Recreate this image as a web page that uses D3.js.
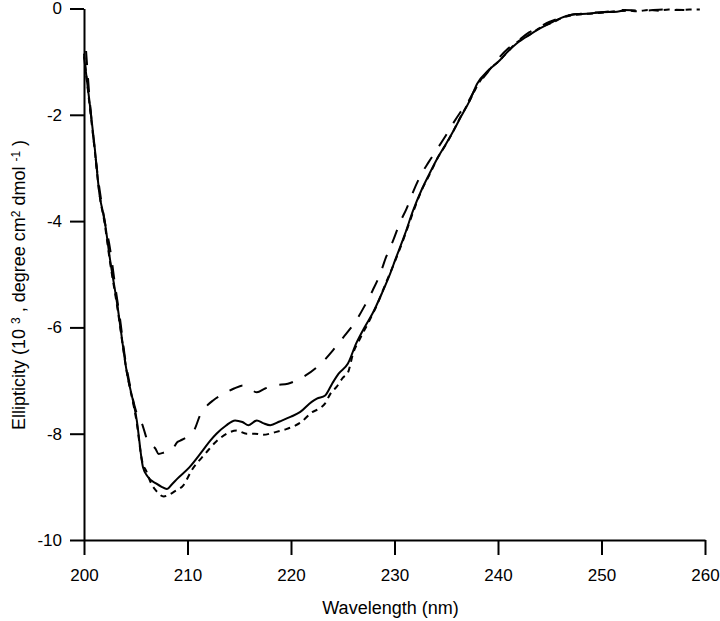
<!DOCTYPE html>
<html>
<head>
<meta charset="utf-8">
<script src="https://cdn.jsdelivr.net/npm/d3@7"></script>
<style>
  body { margin: 0; background: #fff; }
  svg { display: block; font-family: "Liberation Sans", Arial, sans-serif; }
</style>
</head>
<body>
<script>
const width = 720,
    height = 621;

// CD spectra, wavelength (nm) vs ellipticity (10^3 deg cm2 dmol-1)
const solidNm = [200.0, 200.5, 201.0, 201.5, 202.0, 202.5, 203.2, 204.1, 205.1, 205.7, 206.2, 207.0, 207.5, 208.0, 208.5, 209.0, 210.2, 211.5, 212.2, 212.8, 213.7, 214.6, 215.3, 215.9, 216.7, 217.3, 218.0, 218.9, 220.0, 220.9, 222.0, 222.5, 223.3, 224.0, 224.6, 225.5, 226.3, 227.1, 227.9, 228.8, 229.6, 230.05, 231.0, 231.8, 232.6, 233.4, 234.2, 235.0, 235.7, 236.3, 237.3, 238.0, 239.0, 240.2, 241.0, 241.8, 243.0, 244.1, 245.3, 246.6, 247.5, 248.6, 250.0, 251.5, 252.4];
const solidVal = [-0.9, -1.7, -2.55, -3.5, -4.0, -4.7, -5.55, -6.8, -7.75, -8.63, -8.82, -8.94, -9.0, -9.04, -8.95, -8.85, -8.63, -8.31, -8.13, -8.0, -7.85, -7.75, -7.78, -7.84, -7.75, -7.8, -7.84, -7.77, -7.68, -7.59, -7.4, -7.34, -7.28, -7.05, -6.87, -6.68, -6.3, -6.0, -5.73, -5.35, -4.98, -4.74, -4.25, -3.8, -3.42, -3.1, -2.8, -2.54, -2.3, -2.08, -1.72, -1.41, -1.18, -0.97, -0.8, -0.66, -0.5, -0.37, -0.25, -0.14, -0.11, -0.1, -0.07, -0.06, -0.03];

const longNm = [200.2, 200.5, 201.0, 201.5, 202.0, 202.5, 203.0, 203.5, 204.0, 204.4, 205.1, 205.6, 206.2, 206.9, 207.2, 207.8, 208.5, 209.0, 209.3, 210.0, 210.7, 211.2, 212.0, 212.5, 213.5, 214.5, 215.4, 216.0, 216.7, 217.5, 218.5, 219.7, 220.5, 221.2, 222.5, 223.3, 224.1, 225.0, 226.3, 227.1, 227.9, 228.6, 229.2, 229.9, 230.5, 231.2, 231.8, 232.5, 233.3, 234.1, 234.9, 235.6, 236.3, 237.1, 238.0, 239.0, 240.0, 241.0, 242.0, 243.0, 244.0, 245.0, 246.0, 247.0, 248.0, 249.0, 250.0, 251.0, 252.0, 254.0, 256.0, 258.0];
const longVal = [-0.8, -1.6, -2.6, -3.4, -4.0, -4.5, -5.2, -5.87, -6.62, -7.05, -7.62, -7.81, -8.16, -8.28, -8.38, -8.35, -8.31, -8.16, -8.13, -8.05, -7.91, -7.66, -7.45, -7.37, -7.25, -7.15, -7.09, -7.15, -7.22, -7.15, -7.09, -7.06, -7.0, -6.93, -6.75, -6.6, -6.42, -6.2, -5.87, -5.6, -5.3, -5.0, -4.67, -4.35, -4.04, -3.75, -3.45, -3.15, -2.89, -2.65, -2.41, -2.18, -1.97, -1.76, -1.45, -1.2, -0.95, -0.75, -0.6, -0.45, -0.35, -0.25, -0.18, -0.12, -0.1, -0.08, -0.07, -0.05, -0.03, -0.04, -0.02, -0.03];

const shortNm = [200.0, 200.5, 201.0, 201.5, 202.0, 202.5, 203.2, 204.1, 205.1, 205.6, 206.05, 206.5, 207.0, 207.7, 208.2, 208.8, 209.6, 210.4, 211.7, 212.7, 213.8, 214.75, 215.7, 216.5, 217.3, 218.5, 219.6, 220.4, 221.0, 222.0, 222.8, 223.3, 223.8, 224.4, 225.0, 225.5, 226.0, 226.7, 227.5, 228.3, 229.2, 230.0, 231.0, 231.8, 232.6, 233.4, 234.2, 235.0, 235.7, 236.3, 237.3, 238.0, 239.0, 240.2, 241.0, 241.8, 243.0, 244.1, 245.3, 246.6, 247.5, 248.6, 250.0, 251.5, 252.5, 253.5, 254.5, 255.5, 256.5, 257.5, 258.5, 259.5];
const shortVal = [-0.85, -1.75, -2.6, -3.5, -4.05, -4.75, -5.6, -6.8, -7.8, -8.5, -8.72, -8.94, -9.08, -9.18, -9.15, -9.08, -8.97, -8.69, -8.38, -8.16, -8.0, -7.94, -8.0, -8.0, -8.02, -7.97, -7.91, -7.85, -7.78, -7.6, -7.52, -7.43, -7.25, -7.12, -6.95, -6.85, -6.49, -6.2, -5.9, -5.58, -5.15, -4.78, -4.27, -3.83, -3.43, -3.12, -2.8, -2.55, -2.3, -2.07, -1.72, -1.45, -1.18, -0.97, -0.8, -0.64, -0.5, -0.36, -0.26, -0.15, -0.12, -0.1, -0.08, -0.05, -0.04, -0.05, -0.03, -0.04, -0.02, -0.03, -0.02, -0.02];

const xTicks = [200, 210, 220, 230, 240, 250, 260];
const yTicks = [0, -2, -4, -6, -8, -10];

const margin = {left: 84, right: 15, top: 8.5, bottom: 81};

const x = d3.scaleLinear()
    .domain([200, 260])
    .range([margin.left, width - margin.right]);

const y = d3.scaleLinear()
    .domain([-10, 0])
    .range([height - margin.bottom, margin.top]);

const svg = d3.select('body')
    .append('svg')
    .attr('width', width)
    .attr('height', height);

// axes
const xAxis = svg.append('g')
    .attr('transform', `translate(0,${y(-10)})`)
    .call(d3.axisBottom(x).tickValues(xTicks).tickSize(15).tickSizeOuter(0).tickPadding(14).tickFormat(d3.format('d')));

const yAxis = svg.append('g')
    .attr('transform', `translate(${x(200)},0)`)
    .call(d3.axisLeft(y).tickValues(yTicks).tickSize(14).tickSizeOuter(0).tickPadding(8).tickFormat(d => d));

[xAxis, yAxis].forEach(g => {
    g.select('.domain').attr('stroke', '#000').attr('stroke-width', 2);
    g.selectAll('.tick line').attr('stroke', '#000').attr('stroke-width', 2);
    g.selectAll('.tick text')
        .attr('fill', '#000')
        .style('font-size', '17px')
        .style('font-family', '"Liberation Sans", Arial, sans-serif');
});

// curves
const series = [
    {nm: solidNm, val: solidVal, dash: null},
    {nm: longNm, val: longVal, dash: '14,13'},
    {nm: shortNm, val: shortVal, dash: '6,5'}
];

const line = d3.line()
    .x(d => x(d[0]))
    .y(d => y(d[1]))
    .curve(d3.curveMonotoneX);

series.forEach(s => {
    svg.append('path')
        .datum(s.nm.map((n, i) => [n, s.val[i]]))
        .attr('fill', 'none')
        .attr('stroke', '#000')
        .attr('stroke-width', 2)
        .attr('stroke-dasharray', s.dash)
        .attr('d', line);
});

// axis titles
svg.append('text')
    .attr('x', (x(200) + x(260)) / 2 - 4)
    .attr('y', 614)
    .attr('text-anchor', 'middle')
    .style('font-size', '18px')
    .text('Wavelength (nm)');

const yl = svg.append('text')
    .attr('transform', 'translate(25,285) rotate(-90)')
    .attr('text-anchor', 'middle')
    .style('font-size', '18px');
yl.append('tspan').text('Ellipticity (10 ');
yl.append('tspan').attr('baseline-shift', '45%').style('font-size', '12px').text('3');
yl.append('tspan').text(' , degree cm');
yl.append('tspan').attr('baseline-shift', '45%').style('font-size', '12px').text('2');
yl.append('tspan').text(' dmol ');
yl.append('tspan').attr('baseline-shift', '45%').style('font-size', '12px').text('-1');
yl.append('tspan').text(' )');
</script>
</body>
</html>
